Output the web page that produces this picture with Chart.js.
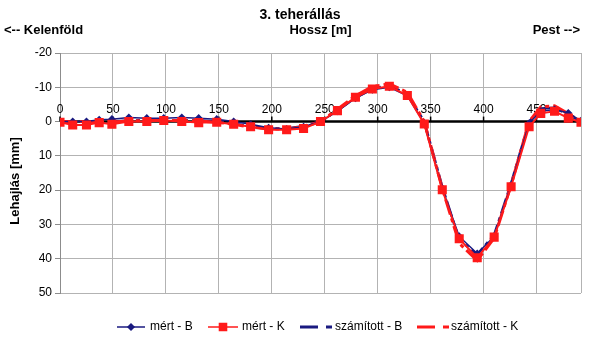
<!DOCTYPE html>
<html>
<head>
<meta charset="utf-8">
<script src="https://cdn.jsdelivr.net/npm/chart.js@4/dist/chart.umd.min.js"></script>
<style>
  html, body { margin: 0; padding: 0; background: #fff; }
</style>
</head>
<body>
<canvas id="lehajlasChart" width="600" height="338"></canvas>
<script>
// Hossz [m] - measuring points along the bridge
const hossz = [0, 12, 25, 37, 49, 65, 82, 98, 115, 131, 148, 164, 180, 197, 214, 230, 246,
  262, 279, 295, 311, 328, 344, 361, 377, 394, 410, 426, 443, 454, 467, 480, 492];

// Lehajlás [mm]
const mertB = [0, 0, 0, -0.5, -0.7, -1.2, -1.0, -1.0, -1.2, -1.0, -0.7, 0, 0.8, 1.8, 2.2, 1.5, 0,
  -3.0, -6.8, -9.3, -10.0, -7.5, 0.5, 19.5, 33.5, 38.5, 33.5, 18.5, 0.5, -3.0, -3.5, -2.5, -0.2];
const mertK = [0.2, 1.0, 1.0, 0.3, 0.8, 0, 0, -0.3, 0, 0.3, 0.2, 0.8, 1.5, 2.4, 2.4, 2.0, 0,
  -3.2, -7.1, -9.5, -10.3, -7.6, 0.7, 19.9, 34.2, 39.7, 33.7, 19.0, 1.5, -2.4, -3.0, -1.0, 0.2];
const szamB = [0, 0, 0, 0, 0, -0.3, -0.4, -0.4, -0.4, -0.3, 0, 0.6, 1.4, 2.0, 2.0, 1.3, 0,
  -3.3, -7.0, -9.6, -10.6, -8.0, 0, 19.0, 34.5, 38.8, 33.0, 18.0, 0, -3.8, -4.0, -2.0, 0];
const szamK = [0, 0, 0, 0.1, 0.1, -0.2, -0.3, -0.3, -0.3, -0.2, 0.2, 0.8, 1.6, 2.2, 2.2, 1.5, 0,
  -3.6, -7.5, -10.2, -11.0, -8.5, 0, 19.5, 35.5, 40.5, 34.0, 18.5, 0, -4.3, -4.6, -2.3, 0];

const xTicks = [0, 50, 100, 150, 200, 250, 300, 350, 400, 450];
const xMax = 492;
const yMin = -20, yMax = 50, yStep = 10;

const NAVY = "#1a1a80";
const RED = "#ff1a1a";
const FONT = "'Liberation Sans', Arial, sans-serif";

const pts = (ys) => hossz.map((x, i) => ({ x: x, y: ys[i] }));

const data = {
  datasets: [
    {
      label: "mért - B",
      data: pts(mertB),
      borderColor: NAVY,
      backgroundColor: NAVY,
      borderWidth: 1.5,
      pointStyle: "rectRot",
      pointRadius: 3,
      order: 1,
    },
    {
      label: "mért - K",
      data: pts(mertK),
      borderColor: RED,
      backgroundColor: RED,
      borderWidth: 2,
      pointStyle: "rect",
      pointRadius: 5,
      order: 0,
    },
    {
      label: "számított - B",
      data: pts(szamB),
      borderColor: NAVY,
      borderWidth: 2.5,
      borderDash: [16, 4, 4, 4],
      pointRadius: 0,
      order: 3,
    },
    {
      label: "számított - K",
      data: pts(szamK),
      borderColor: RED,
      borderWidth: 3,
      borderDash: [16, 4, 4, 4],
      pointRadius: 0,
      order: 2,
    },
  ],
};

// zero line with tick labels on top, titles and legend drawn by hand
const decorations = {
  id: "decorations",
  beforeDatasetsDraw: (chart) => {
    const ctx = chart.ctx;
    const xs = chart.scales.x;
    const y0 = chart.scales.y.getPixelForValue(0);
    ctx.save();
    ctx.strokeStyle = "#000";
    ctx.lineWidth = 2.5;
    ctx.beginPath();
    ctx.moveTo(chart.chartArea.left, y0);
    ctx.lineTo(chart.chartArea.right, y0);
    ctx.stroke();
    ctx.lineWidth = 1.5;
    ctx.fillStyle = "#000";
    ctx.font = "12px " + FONT;
    ctx.textAlign = "center";
    ctx.textBaseline = "alphabetic";
    xTicks.forEach((v) => {
      const px = xs.getPixelForValue(v);
      ctx.beginPath();
      ctx.moveTo(px, y0 - 5);
      ctx.lineTo(px, y0);
      ctx.stroke();
      ctx.fillText(String(v), px, y0 - 9);
    });
    ctx.restore();
  },
  afterDraw: (chart) => {
    const ctx = chart.ctx;
    const area = chart.chartArea;
    ctx.save();
    ctx.fillStyle = "#000";
    ctx.textBaseline = "middle";

    ctx.font = "bold 14px " + FONT;
    ctx.textAlign = "center";
    ctx.fillText("3. teherállás", 300, 15);

    ctx.font = "bold 13px " + FONT;
    ctx.fillText("Hossz [m]", (area.left + area.right) / 2, 30);
    ctx.textAlign = "left";
    ctx.fillText("<-- Kelenföld", 4, 30);
    ctx.textAlign = "right";
    ctx.fillText("Pest -->", 580, 30);

    ctx.save();
    ctx.translate(15, 181);
    ctx.rotate(-Math.PI / 2);
    ctx.textAlign = "center";
    ctx.fillText("Lehajlás [mm]", 0, 0);
    ctx.restore();

    // legend
    const ly = 327;
    const items = [
      { ds: 0, x1: 117, x2: 145, tx: 150 },
      { ds: 1, x1: 208, x2: 238, tx: 242 },
      { ds: 2, x1: 300, x2: 332, tx: 335 },
      { ds: 3, x1: 417, x2: 449, tx: 451 },
    ];
    ctx.font = "12px " + FONT;
    ctx.textAlign = "left";
    items.forEach((it) => {
      const ds = chart.data.datasets[it.ds];
      ctx.strokeStyle = ds.borderColor;
      ctx.lineWidth = ds.borderDash ? 3 : 1.5;
      ctx.setLineDash(ds.borderDash ? [18, 8, 6, 100] : []);
      ctx.beginPath();
      ctx.moveTo(it.x1, ly);
      ctx.lineTo(it.x2, ly);
      ctx.stroke();
      ctx.setLineDash([]);
      if (ds.pointRadius) {
        Chart.helpers.drawPoint(ctx, {
          pointStyle: ds.pointStyle,
          radius: ds.pointRadius,
          borderWidth: 1,
        }, (it.x1 + it.x2) / 2, ly);
        ctx.fillStyle = ds.backgroundColor;
        ctx.fill();
      }
      ctx.fillStyle = "#000";
      ctx.fillText(ds.label, it.tx, ly);
    });
    ctx.restore();
  },
};

const config = {
  type: "line",
  data: data,
  options: {
    responsive: false,
    animation: false,
    layout: { padding: { top: 53, bottom: 45, left: 0, right: 19 } },
    elements: { line: { tension: 0 } },
    scales: {
      x: {
        type: "linear",
        min: 0,
        max: xMax,
        afterBuildTicks: (scale) => {
          scale.ticks = xTicks.concat([xMax]).map((v) => ({ value: v }));
        },
        afterFit: (scale) => { scale.height = 0; },
        ticks: { display: false },
        grid: { color: "#b3b3b3", lineWidth: 1, drawTicks: false },
        border: { display: false },
      },
      y: {
        type: "linear",
        reverse: true,
        min: yMin,
        max: yMax,
        afterFit: (scale) => { scale.width = 60; },
        ticks: {
          stepSize: yStep,
          color: "#000",
          padding: 3,
          font: { family: FONT, size: 12 },
        },
        grid: { color: "#b3b3b3", lineWidth: 1, tickLength: 5, tickColor: "#8c8c8c" },
        border: { color: "#8c8c8c", width: 1 },
      },
    },
    plugins: {
      legend: { display: false },
      tooltip: { enabled: false },
    },
  },
  plugins: [decorations],
};

const lehajlasChart = new Chart(document.getElementById("lehajlasChart"), config);
</script>
</body>
</html>
